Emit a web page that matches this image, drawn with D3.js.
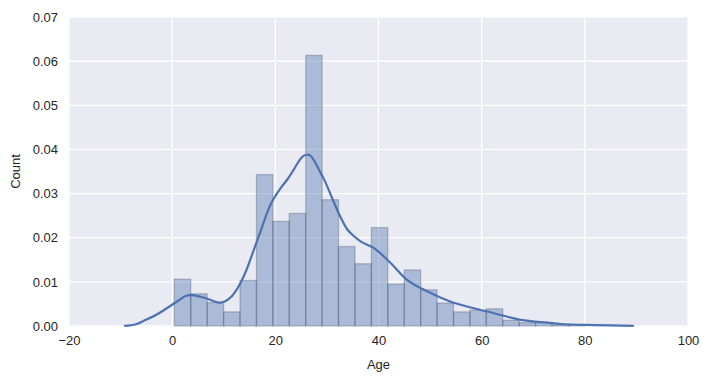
<!DOCTYPE html>
<html>
<head>
<meta charset="utf-8">
<script src="https://cdn.jsdelivr.net/npm/d3@7"></script>
<style>
  body { margin: 0; background: #fff; }
  text { font-family: "Liberation Sans", Arial, sans-serif; fill: #262626; }
</style>
</head>
<body>
<svg id="chart" width="709" height="381"></svg>
<script>
// histogram bin edges (Age) and normalised heights
const binEdges = [0.42, 3.60, 6.79, 9.97, 13.15, 16.34, 19.52, 22.70, 25.89, 29.07, 32.25,
  35.44, 38.62, 41.80, 44.99, 48.17, 51.35, 54.54, 57.72, 60.90, 64.09, 67.27, 70.45,
  73.64, 76.82, 80.00];
const binDensity = [0.0106, 0.0073, 0.0053, 0.0032, 0.0103, 0.0343, 0.0237, 0.0255, 0.0613,
  0.0286, 0.0180, 0.0141, 0.0223, 0.0095, 0.0127, 0.0082, 0.0052, 0.0032, 0.0036, 0.0039,
  0.0013, 0.00075, 0.00075, 0.0003, 0.0003];

// kde curve
const kdeAge = [-9.3, -7, -5.1, -3, -1.2, 1, 2.6, 3.8, 6.5, 9.1, 10.3, 11.6, 12.9, 14.3, 15.6,
  17.0, 19.1, 21.0, 22.4, 23.6, 24.6, 25.4, 26.1, 26.8, 27.6, 28.5, 29.5, 31.0, 32.7, 34.0,
  35.3, 36.6, 39.2, 42.4, 45.6, 49.5, 54.0, 57.9, 62.4, 67.6, 72.8, 75.4, 81.8, 89.5];
const kdeDensity = [0.00002, 0.0004, 0.0014, 0.0026, 0.0039, 0.0056, 0.0068, 0.0070, 0.0063,
  0.0053, 0.0056, 0.0068, 0.0090, 0.0124, 0.0165, 0.0210, 0.0276, 0.0312, 0.0333, 0.0355,
  0.0374, 0.0385, 0.0388, 0.0386, 0.0373, 0.0353, 0.0331, 0.0290, 0.0245, 0.0218, 0.0203,
  0.0191, 0.0176, 0.0142, 0.0104, 0.0078, 0.0055, 0.0042, 0.0029, 0.0014, 0.00075, 0.00045,
  0.0002, 0.00003];

const xTicks = [-20, 0, 20, 40, 60, 80, 100];
const yTicks = [0, 0.01, 0.02, 0.03, 0.04, 0.05, 0.06, 0.07];

const margin = {top: 17, right: 21, bottom: 55, left: 69};
const W = 709, H = 381;
const w = W - margin.left - margin.right;
const h = H - margin.top - margin.bottom;

const svg = d3.select("#chart");
const g = svg.append("g").attr("transform", `translate(${margin.left},${margin.top})`);

const x = d3.scaleLinear().domain([-20, 100]).range([0, w]);
const y = d3.scaleLinear().domain([0, 0.07]).range([h, 0]);

g.append("rect").attr("width", w).attr("height", h).attr("fill", "#EAEAF2");

// grid
g.selectAll(".gx").data(xTicks).enter().append("line")
  .attr("x1", d => x(d)).attr("x2", d => x(d))
  .attr("y1", 0).attr("y2", h)
  .attr("stroke", "#fff").attr("stroke-width", 1.2);
g.selectAll(".gy").data(yTicks).enter().append("line")
  .attr("x1", 0).attr("x2", w)
  .attr("y1", d => y(d)).attr("y2", d => y(d))
  .attr("stroke", "#fff").attr("stroke-width", 1.2);

// bars
const bins = binDensity.map((v, i) => ({x0: binEdges[i], x1: binEdges[i + 1], v: v}));
g.selectAll(".bar").data(bins).enter().append("rect")
  .attr("class", "bar")
  .attr("x", d => x(d.x0))
  .attr("width", d => x(d.x1) - x(d.x0))
  .attr("y", d => y(d.v))
  .attr("height", d => y(0) - y(d.v))
  .attr("fill", "#4C72B0").attr("fill-opacity", 0.4)
  .attr("stroke", "#3b4a66").attr("stroke-opacity", 0.3).attr("stroke-width", 1.3);

// kde line
const pts = kdeAge.map((a, i) => [a, kdeDensity[i]]);
g.append("path")
  .datum(pts)
  .attr("fill", "none")
  .attr("stroke", "#4C72B0")
  .attr("stroke-width", 2.2)
  .attr("d", d3.line().x(d => x(d[0])).y(d => y(d[1])).curve(d3.curveCatmullRom.alpha(0.5)));

// axes
const fmtX = d => d < 0 ? "\u2212" + Math.abs(d) : String(d);
const xAxis = g.append("g").attr("transform", `translate(0,${h})`)
  .call(d3.axisBottom(x).tickValues(xTicks).tickFormat(fmtX).tickSize(0).tickPadding(10));
const yAxis = g.append("g")
  .call(d3.axisLeft(y).tickValues(yTicks).tickFormat(d3.format(".2f")).tickSize(0).tickPadding(11));
[xAxis, yAxis].forEach(a => {
  a.select(".domain").remove();
  a.selectAll("text").attr("font-size", 13).style("fill", "#262626")
    .attr("font-family", "'Liberation Sans', Arial, sans-serif");
});

svg.append("text")
  .attr("x", margin.left + w / 2).attr("y", 369)
  .attr("text-anchor", "middle").attr("font-size", 13)
  .text("Age");
svg.append("text")
  .attr("transform", `translate(20,${margin.top + h / 2}) rotate(-90)`)
  .attr("text-anchor", "middle").attr("font-size", 13)
  .text("Count");
</script>
</body>
</html>
